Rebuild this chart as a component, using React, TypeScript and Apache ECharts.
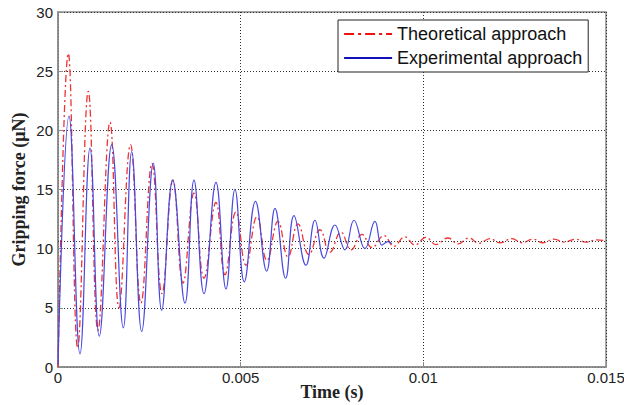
import React, { useEffect, useRef } from 'react';
import * as echarts from 'echarts';

// Theoretical approach (red dash-dot): extrema, time in s, force in µN
const theoryTime = [
  0, 0.000282, 0.000539, 0.000829, 0.001095, 0.001423, 0.001669, 0.001984, 0.002271, 0.002573,
  0.002846, 0.003147, 0.003421, 0.003722, 0.003996, 0.004324, 0.00457, 0.004871, 0.005145, 0.005446,
  0.00572, 0.006021, 0.006294, 0.006568, 0.006869, 0.00717, 0.007444, 0.007745, 0.008019, 0.00832,
  0.008593, 0.008922, 0.009195, 0.009496, 0.00977, 0.010071, 0.010345, 0.010673, 0.010947, 0.011248,
  0.011522, 0.011823, 0.012096, 0.012425, 0.012698, 0.013, 0.013273, 0.013574, 0.013848, 0.014176,
  0.01445, 0.014751, 0.015,
];
const theoryForce = [
  0, 26.5, 1.6, 23.3, 3.1, 20.7, 5.0, 18.8, 5.4, 17.2,
  6.2, 15.8, 7.1, 14.7, 7.5, 13.9, 7.8, 13.1, 8.6, 12.7,
  9.0, 12.3, 9.3, 12.1, 9.5, 11.6, 9.7, 11.4, 9.9, 11.2,
  10.1, 11.1, 10.2, 11.0, 10.3, 10.95, 10.35, 10.9, 10.4, 10.9,
  10.45, 10.85, 10.5, 10.85, 10.5, 10.8, 10.5, 10.8, 10.55, 10.8,
  10.55, 10.75, 10.65,
];

// Experimental approach (blue solid)
const experTime = [
  0, 0.000301, 0.000602, 0.000876, 0.00113, 0.00147, 0.001787, 0.002017, 0.002291, 0.002608,
  0.002838, 0.003139, 0.003476, 0.003722, 0.003996, 0.004324, 0.004598, 0.004844, 0.005099, 0.005405,
  0.005711, 0.005939, 0.006231, 0.006459, 0.006787, 0.007034, 0.00728, 0.007581, 0.007854, 0.008101,
  0.008402, 0.008676, 0.008867, 0.009031, 0.009141,
];
const experForce = [
  0.2, 21.2, 1.1, 18.5, 2.6, 18.8, 3.3, 18.2, 3.0, 17.2,
  4.8, 15.8, 5.4, 15.8, 6.2, 15.6, 6.6, 15.0, 7.2, 14.0,
  8.1, 13.4, 7.5, 12.8, 8.6, 12.4, 9.2, 12.0, 9.9, 12.4,
  10.0, 12.3, 10.3, 10.6, 10.4,
];

const steadyState = 10.65;
const xTicks = { min: 0, max: 0.015, interval: 0.005 };
const yTicks = { min: 0, max: 30, interval: 5 };
const seriesNames = ['Theoretical approach', 'Experimental approach'];

const gridLine = { type: [1, 2] as number[], color: '#333', width: 1 };
const tickFont = { fontFamily: 'Liberation Sans, Arial, sans-serif', fontSize: 15, color: '#222' };
const titleFont = { fontFamily: 'Liberation Serif, Times New Roman, serif', fontSize: 18, fontWeight: 'bold' as const, color: '#222' };
const noSymbol = { color: 'transparent', borderWidth: 0, opacity: 0 };

export default function App() {
  const ref = useRef<HTMLDivElement>(null);
  useEffect(() => {
    const chart = echarts.init(ref.current!, null, { renderer: 'svg' });
    chart.setOption({
      animation: false,
      backgroundColor: '#fff',
      grid: {
        left: 58, right: 18, top: 12, bottom: 38,
        outerBoundsMode: 'none',
        show: true, borderColor: '#8a8a8a', borderWidth: 1.5,
      },
      xAxis: {
        type: 'value',
        ...xTicks,
        name: 'Time (s)',
        nameLocation: 'middle',
        nameGap: 16,
        nameMoveOverlap: false,
        nameTextStyle: titleFont,
        axisLine: { show: true, lineStyle: { color: '#8a8a8a', width: 1.5 } },
        axisTick: { show: true, inside: true, length: 5, lineStyle: { color: '#8a8a8a' } },
        axisLabel: { ...tickFont, margin: 3, formatter: (v: number) => String(+v.toFixed(4)) },
        splitLine: { show: true, lineStyle: gridLine },
      },
      yAxis: {
        type: 'value',
        ...yTicks,
        name: 'Gripping force (μN)',
        nameLocation: 'middle',
        nameGap: 30,
        nameMoveOverlap: false,
        nameTextStyle: titleFont,
        axisLine: { show: true, lineStyle: { color: '#8a8a8a', width: 1.5 } },
        axisTick: { show: true, inside: true, length: 5, lineStyle: { color: '#8a8a8a' } },
        axisLabel: { ...tickFont, margin: 5 },
        splitLine: { show: true, lineStyle: gridLine },
      },
      legend: {
        orient: 'vertical',
        left: 338,
        top: 20,
        padding: [5, 6, 5, 5],
        itemGap: 6,
        itemWidth: 48,
        itemHeight: 14,
        backgroundColor: '#fff',
        borderColor: '#222',
        borderWidth: 1,
        borderRadius: 0,
        textStyle: { fontFamily: 'Liberation Sans, Arial, sans-serif', fontSize: 18, color: '#111' },
        data: [
          { name: seriesNames[0], itemStyle: noSymbol, lineStyle: { color: '#ee1111', width: 2.2, type: [10, 4, 3, 4] } },
          { name: seriesNames[1], itemStyle: noSymbol, lineStyle: { color: '#1111bb', width: 2.2 } },
        ],
      },
      series: [
        {
          name: seriesNames[0],
          type: 'line',
          data: theoryTime.map((t, i) => [t, theoryForce[i]]),
          smooth: 0.45,
          symbol: 'none',
          color: '#ee3333',
          lineStyle: { color: '#ee3333', width: 1.3, type: [7, 3, 2, 3] },
          markLine: {
            silent: true,
            symbol: 'none',
            label: { show: false },
            lineStyle: { type: [1, 2], color: '#333', width: 1 },
            data: [{ yAxis: steadyState }],
          },
          z: 2,
        },
        {
          name: seriesNames[1],
          type: 'line',
          data: experTime.map((t, i) => [t, experForce[i]]),
          smooth: 0.45,
          symbol: 'none',
          color: '#4848e0',
          lineStyle: { color: '#4848e0', width: 1.2 },
          z: 3,
        },
      ],
    });
    return () => chart.dispose();
  }, []);
  return <div ref={ref} style={{ position: 'fixed', left: 0, top: 0, width: 624, height: 405 }} />;
}
